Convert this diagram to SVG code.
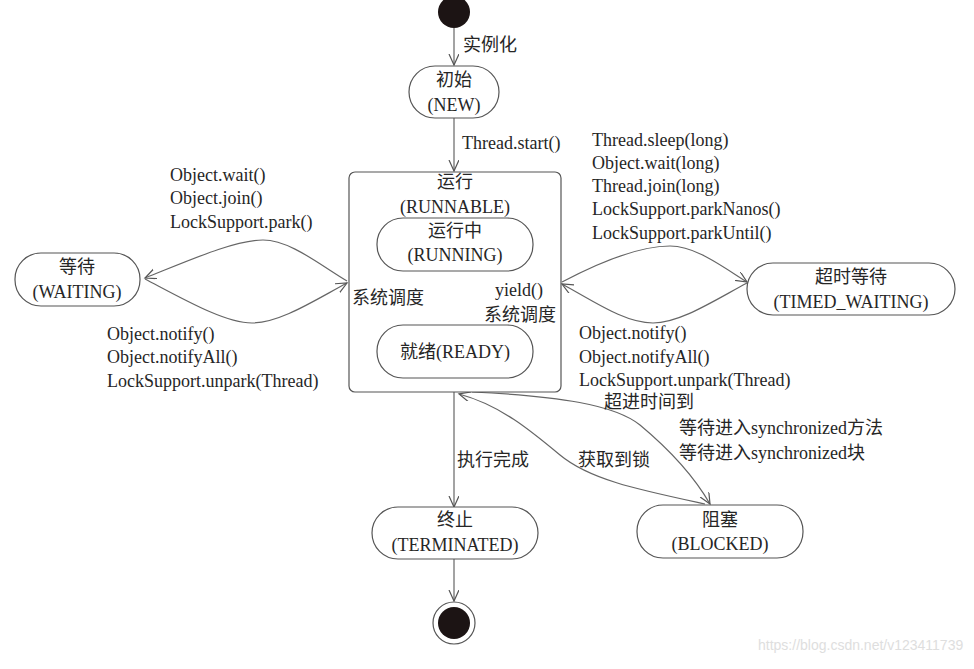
<svg xmlns="http://www.w3.org/2000/svg" width="974" height="669" viewBox="0 0 974 669">
<defs>
<style>
.t{font-family:"Liberation Serif","Noto Sans CJK SC",serif;font-size:18px;fill:#262626}
.c{text-anchor:middle}
.n{fill:#fff;stroke:#555;stroke-width:1.2}
.e{fill:none;stroke:#666;stroke-width:1.2}
.wm{font-family:"Liberation Sans",sans-serif;font-size:14px;fill:#dedede}
</style>
<marker id="a" markerUnits="userSpaceOnUse" markerWidth="14" markerHeight="12" refX="11" refY="5" orient="auto">
<path d="M0,0 L11,5 L0,10" fill="none" stroke="#555" stroke-width="1.2"/>
</marker>
</defs>
<rect width="974" height="669" fill="#fff"/>

<g id="connectors">
<path class="e" d="M454,28 L454,65" marker-end="url(#a)"/>
<path class="e" d="M454,118 L454,171" marker-end="url(#a)"/>
<path class="e" d="M347,281 C320,265 290,240 263,240 C235,240 190,260 145,278" marker-end="url(#a)"/>
<path class="e" d="M145,279 C185,300 225,323 252,323 C280,323 315,300 347,283" marker-end="url(#a)"/>
<path class="e" d="M562,282 C600,262 640,246 670,246 C695,246 720,265 747,282" marker-end="url(#a)"/>
<path class="e" d="M747,283 C715,300 680,323 653,323 C625,323 595,302 562,284" marker-end="url(#a)"/>
<path class="e" d="M457,325 C425,312 425,285 449,271" marker-end="url(#a)"/>
<path class="e" d="M451,271 C485,282 485,312 460,325" marker-end="url(#a)"/>
<path class="e" d="M454,392 L454,507" marker-end="url(#a)"/>
<path class="e" d="M472,392 C560,396 615,405 640,425 C670,450 695,478 710,504" marker-end="url(#a)"/>
<path class="e" d="M705,504 C640,490 590,480 560,455 C530,430 500,405 459,394" marker-end="url(#a)"/>
<path class="e" d="M454,559 L454,601" marker-end="url(#a)"/>
</g>

<g id="start">
<circle cx="454" cy="12" r="16" fill="#1c1414"/>
</g>

<g id="new">
<rect class="n" x="409" y="66" width="90" height="52" rx="26"/>
<text class="t c" x="454" y="86">初始</text>
<text class="t c" x="454" y="111">(NEW)</text>
</g>

<g id="runnable">
<rect class="n" x="349" y="172" width="212" height="220" rx="6"/>
<text class="t c" x="455" y="188">运行</text>
<text class="t c" x="455" y="213">(RUNNABLE)</text>
</g>

<g id="running">
<rect class="n" x="377" y="218" width="156" height="53" rx="26"/>
<text class="t c" x="455" y="237">运行中</text>
<text class="t c" x="455" y="261">(RUNNING)</text>
</g>

<g id="ready">
<rect class="n" x="377" y="325" width="156" height="53" rx="26"/>
<text class="t c" x="455" y="358">就绪(READY)</text>
</g>

<g id="waiting">
<rect class="n" x="15" y="253" width="125" height="53" rx="26"/>
<text class="t c" x="77" y="273">等待</text>
<text class="t c" x="77" y="298">(WAITING)</text>
</g>

<g id="timed_waiting">
<rect class="n" x="747" y="263" width="208" height="52" rx="26"/>
<text class="t c" x="851" y="283">超时等待</text>
<text class="t c" x="851" y="308">(TIMED_WAITING)</text>
</g>

<g id="terminated">
<rect class="n" x="372" y="507" width="166" height="52" rx="26"/>
<text class="t c" x="455" y="526">终止</text>
<text class="t c" x="455" y="551">(TERMINATED)</text>
</g>

<g id="blocked">
<rect class="n" x="637" y="505" width="166" height="53" rx="26"/>
<text class="t c" x="720" y="526">阻塞</text>
<text class="t c" x="720" y="550">(BLOCKED)</text>
</g>

<g id="end">
<circle cx="454" cy="623" r="21" fill="#fff" stroke="#555" stroke-width="1.2"/>
<circle cx="454" cy="623" r="16" fill="#1c1414"/>
</g>

<g id="labels">
<text class="t" x="463" y="51">实例化</text>
<text class="t" x="462" y="149">Thread.start()</text>
<text class="t" x="170" y="181">Object.wait()</text>
<text class="t" x="170" y="204">Object.join()</text>
<text class="t" x="170" y="228">LockSupport.park()</text>
<text class="t" x="107" y="340">Object.notify()</text>
<text class="t" x="107" y="363">Object.notifyAll()</text>
<text class="t" x="107" y="387">LockSupport.unpark(Thread)</text>
<text class="t" x="592" y="146">Thread.sleep(long)</text>
<text class="t" x="592" y="169">Object.wait(long)</text>
<text class="t" x="592" y="192">Thread.join(long)</text>
<text class="t" x="592" y="215">LockSupport.parkNanos()</text>
<text class="t" x="592" y="239">LockSupport.parkUntil()</text>
<text class="t" x="579" y="339">Object.notify()</text>
<text class="t" x="579" y="363">Object.notifyAll()</text>
<text class="t" x="579" y="386">LockSupport.unpark(Thread)</text>
<text class="t" x="352" y="304">系统调度</text>
<text class="t" x="495" y="296">yield()</text>
<text class="t" x="484" y="321">系统调度</text>
<text class="t" x="604" y="408">超进时间到</text>
<text class="t" x="679" y="434">等待进入synchronized方法</text>
<text class="t" x="679" y="459">等待进入synchronized块</text>
<text class="t" x="457" y="466">执行完成</text>
<text class="t" x="578" y="466">获取到锁</text>
</g>

<text class="wm" x="758" y="650">https://blog.csdn.net/v123411739</text>
</svg>
